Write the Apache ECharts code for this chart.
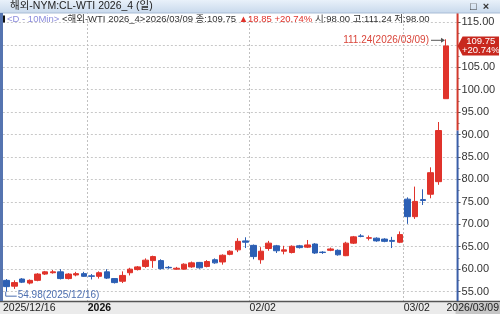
<!DOCTYPE html>
<html><head><meta charset="utf-8">
<script src="https://cdn.jsdelivr.net/npm/echarts@6/dist/echarts.min.js"></script>
<style>html,body{margin:0;padding:0;background:#fff}#c{width:500px;height:314px}</style>
</head><body><div id="c"></div><script>
// ---- data ----
const dates = ['2025/12/16','2025/12/17','2025/12/18','2025/12/19','2025/12/22','2025/12/23','2025/12/24','2025/12/26','2025/12/29','2025/12/30','2025/12/31',
 '2026/01/02','2026/01/05','2026/01/06','2026/01/07','2026/01/08','2026/01/09','2026/01/12','2026/01/13','2026/01/14','2026/01/15','2026/01/16','2026/01/19','2026/01/20','2026/01/21','2026/01/22','2026/01/23','2026/01/26','2026/01/27','2026/01/28','2026/01/29','2026/01/30',
 '2026/02/02','2026/02/03','2026/02/04','2026/02/05','2026/02/06','2026/02/09','2026/02/10','2026/02/11','2026/02/12','2026/02/13','2026/02/16','2026/02/17','2026/02/18','2026/02/19','2026/02/20','2026/02/23','2026/02/24','2026/02/25','2026/02/26','2026/02/27',
 '2026/03/02','2026/03/03','2026/03/04','2026/03/05','2026/03/06','2026/03/09'];
const opens  = [57.5,56.2,57.8,56.9,57.5,58.9,59.2,59.4,57.9,58.7,59.0, 58.5,58.4,59.4,57.9,57.3,59.2,59.9,60.6,61.9,61.9,60.4,60.0,60.0,60.5,61.5,60.6,62.1,61.6,63.3,64.3,66.3, 65.3,62.1,64.6,65.2,64.0,63.7,65.2,64.9,65.6,63.8,64.2,64.2,63.0,65.8,67.4,66.9,66.9,66.7,66.4,66.0, 75.6,71.7,75.5,76.7,79.5,98.00];
const closes = [56.1,57.0,57.1,57.5,58.9,59.4,59.4,57.9,58.9,59.0,58.4, 58.4,59.2,58.0,57.0,58.6,60.0,60.5,62.0,62.8,60.1,60.3,60.2,61.1,61.4,60.3,61.7,61.4,63.1,64.0,66.2,66.0, 62.8,64.0,65.8,64.1,64.3,65.1,64.8,65.4,63.6,63.7,64.5,63.2,65.8,67.2,67.3,67.0,66.3,66.2,66.2,67.7, 71.7,75.1,75.3,81.5,90.90,109.75];
const lows   = [54.98,55.6,56.9,56.6,57.3,58.7,59.0,57.7,57.7,58.4,58.3, 57.7,57.9,57.8,56.8,56.9,58.6,59.7,60.3,60.3,59.9,60.1,59.9,59.9,60.3,60.1,60.4,61.2,61.0,63.1,63.8,64.7, 62.2,61.2,64.1,63.6,63.3,63.5,64.6,64.7,63.4,63.4,64.0,63.0,62.9,65.6,67.1,66.4,66.1,66.0,64.7,65.8, 70.1,71.2,74.3,75.8,78.8,98.00];
const highs  = [57.8,57.5,58.0,57.7,59.1,59.6,59.8,60.0,59.1,59.4,59.4, 58.9,59.5,60.0,58.0,59.5,60.3,60.7,62.4,63.0,62.2,60.7,60.5,61.3,61.7,61.6,62.0,62.4,63.3,64.2,66.9,67.1, 65.5,64.9,66.3,65.4,65.2,65.3,65.4,66.5,65.8,64.0,64.8,64.4,66.1,67.4,67.8,67.5,67.1,66.9,67.2,68.4, 76.0,78.4,77.8,82.7,92.8,111.24];
const yMin = 50, yMax = 120, yStep = 5, yLabelMin = 55, yLabelMax = 115;
const titleText = '해외-NYM:CL-WTI 2026_4 (일)';
const infoTag = '<D - 10Min>';
const infoName = '<해외-WTI 2026_4>';

// ---- layout ----
const W = 500, H = 314;
const LEFT = 2.85, BAND = 7.707;
const n = dates.length;
const plotRight = LEFT + (n + 1) * BAND;
const RED = '#e0332b', BLUE = '#2c5fb4';
const FONT = "'Liberation Sans','Noto Sans CJK KR',sans-serif";

const xCats = dates.concat(['']);
const candles = dates.map((d, i) => [opens[i], closes[i], lows[i], highs[i]]);
const ymd = s => { const p = s.split('/').map(Number); return new Date(p[0], p[1] - 1, p[2]); };
const monthStart = new Set();
const weekStart = new Set();
dates.forEach((d, i) => {
  if (i === 0) return;
  const a = ymd(d), b = ymd(dates[i - 1]);
  if (a.getMonth() !== b.getMonth()) monthStart.add(i);
  if (a.getDay() < b.getDay()) weekStart.add(i);
});

const chart = echarts.init(document.getElementById('c'), null, {renderer: 'canvas'});
const option = {
  animation: false,
  textStyle: {fontFamily: FONT},
  grid: [
    {left: LEFT, right: W - plotRight, top: 0, bottom: 0},
    {left: LEFT, right: W - (LEFT + (n - 1) * BAND), top: 301, height: 13}
  ],
  xAxis: [
    {type: 'category', gridIndex: 0, data: xCats, boundaryGap: true,
     axisLine: {show: false}, axisTick: {show: false}, axisLabel: {show: false},
     splitLine: {show: true, interval: (i) => monthStart.has(i), lineStyle: {color: '#c0c0c0', type: [2, 2]}}},
    {type: 'category', gridIndex: 1, data: dates, boundaryGap: false, position: 'top', z: 10,
     axisLine: {show: false},
     axisTick: {show: true, inside: true, length: 3, interval: (i) => weekStart.has(i), lineStyle: {color: '#444'}},
     axisLabel: {inside: true, margin: 2, align: 'left', verticalAlign: 'top', fontSize: 10.5, color: '#222', fontFamily: FONT,
       interval: (i) => i === 0 || monthStart.has(i),
       formatter: (v, i) => {
         if (i === 0) return v;
         if (ymd(v).getMonth() === 0) return '{b|' + v.slice(0, 4) + '}';
         return v.slice(5);
       },
       rich: {b: {fontWeight: 'bold', fontSize: 10.5, color: '#111', fontFamily: FONT}}}}
  ],
  yAxis: [
    {type: 'value', gridIndex: 0, position: 'right', min: yMin, max: yMax, interval: yStep,
     axisLine: {show: false},
     axisTick: {show: true, length: 3, lineStyle: {color: '#555'}},
     minorTick: {show: true, splitNumber: 2, length: 2, lineStyle: {color: '#888'}},
     axisLabel: {margin: 4, fontSize: 11, color: '#333', fontFamily: FONT,
       formatter: v => (v < yLabelMin || v > yLabelMax) ? '' : v.toFixed(2)},
     splitLine: {show: true, lineStyle: {color: '#c8c8c8', type: [2, 2]}}},
    {type: 'value', gridIndex: 1, show: false}
  ],
  series: [{
    type: 'candlestick', xAxisIndex: 0, yAxisIndex: 0, data: candles, barWidth: 6,
    itemStyle: {color: RED, color0: BLUE, borderColor: RED, borderColor0: BLUE, borderWidth: 1}
  }]
};
chart.setOption(option);

// ---- overlays derived from scales ----
const px = (i, v) => chart.convertToPixel({xAxisIndex: 0, yAxisIndex: 0}, [i, v]);
const last = n - 1;
const prevClose = closes[last - 1];
const chg = closes[last] - prevClose;
const pct = chg / prevClose * 100;
const yPrev = px(0, prevClose)[1];
const axisX = plotRight;
const yc = px(last, closes[last])[1];
let hiIdx = 0, loIdx = 0;
highs.forEach((v, i) => { if (v > highs[hiIdx]) hiIdx = i; });
lows.forEach((v, i) => { if (v < lows[loIdx]) loIdx = i; });
const hp = px(hiIdx, highs[hiIdx]);
const lp = px(loIdx, lows[loIdx]);
const f2 = v => v.toFixed(2);
const tagCx = (axisX + 5 + W - 1) / 2;

const els = [
  // bottom band
  {type: 'rect', z: 5, shape: {x: 0, y: 301, width: W, height: 13}, style: {fill: '#ebebeb'}},
  {type: 'line', z: 6, shape: {x1: 0, y1: 301.5, x2: W, y2: 301.5}, style: {stroke: '#555', lineWidth: 1.5}},
  {type: 'rect', z: 6, shape: {x: axisX - 2, y: 302.5, width: W - axisX + 2, height: 11.5}, style: {fill: '#c6c6c6'}},
  {type: 'text', z: 7, x: W - 1, y: 308.5, style: {text: dates[last], fill: '#222', font: '10.5px ' + FONT, align: 'right', verticalAlign: 'middle'}},
  // title bar
  {type: 'rect', z: 100, shape: {x: 0, y: 0, width: W, height: 13},
   style: {fill: new echarts.graphic.LinearGradient(0, 0, 0, 1, [{offset: 0, color: '#e9f1fa'}, {offset: 1, color: '#c8d9ec'}])}},
  {type: 'line', z: 100, shape: {x1: 0, y1: 13, x2: W, y2: 13}, style: {stroke: '#a9bdd6', lineWidth: 1}},
  {type: 'text', z: 101, x: 10, y: 6.5, style: {text: titleText, fill: '#222', font: '10.5px ' + FONT, verticalAlign: 'middle'}},
  {type: 'text', z: 101, x: 470, y: 6.5, style: {text: '□  ×', fill: '#333', font: 'bold 11px ' + FONT, verticalAlign: 'middle'}},
  // left stripe
  {type: 'rect', z: 100, shape: {x: 0, y: 13, width: 3, height: 288}, style: {fill: '#5574b0'}},
  // info line
  {type: 'rect', z: 101, shape: {x: 3, y: 15.5, width: 2, height: 7}, style: {fill: '#111'}},
  {type: 'text', z: 101, x: 7, y: 19, style: {
    text: '{p|' + infoTag + '} {d|' + infoName + dates[last] + ' 종:' + f2(closes[last]) + '} {r|▲' + f2(chg) + ' +' + f2(pct) + '%} {d|시:' + f2(opens[last]) + ' 고:' + f2(highs[last]) + ' 저:' + f2(lows[last]) + '}',
    verticalAlign: 'middle', font: '9.5px ' + FONT,
    rich: {p: {fill: '#8c8cdc', font: '9.5px ' + FONT}, d: {fill: '#333', font: '9.5px ' + FONT}, r: {fill: '#e0332b', font: '9.5px ' + FONT}}}},
  // right axis line split at previous close
  {type: 'line', z: 50, shape: {x1: axisX, y1: 13, x2: axisX, y2: yPrev}, style: {stroke: '#d23a2e', lineWidth: 2}},
  {type: 'line', z: 50, shape: {x1: axisX, y1: yPrev, x2: axisX, y2: 301}, style: {stroke: '#3a5ea8', lineWidth: 2}},
  // current price tag
  {type: 'polygon', z: 100, shape: {points: [[axisX, yc], [axisX + 5, yc - 9.5], [W - 1, yc - 9.5], [W - 1, yc + 9.5], [axisX + 5, yc + 9.5]]}, style: {fill: '#c8281e'}},
  {type: 'text', z: 101, x: tagCx, y: yc - 4.5, style: {text: f2(closes[last]), fill: '#fff', font: '9.5px ' + FONT, align: 'center', verticalAlign: 'middle'}},
  {type: 'text', z: 101, x: tagCx, y: yc + 4.5, style: {text: '+' + f2(pct) + '%', fill: '#fff', font: '9.5px ' + FONT, align: 'center', verticalAlign: 'middle'}},
  // high marker
  {type: 'text', z: 60, x: hp[0] - 17, y: hp[1] + 1, style: {text: f2(highs[hiIdx]) + '(' + dates[hiIdx] + ')', fill: '#d9453a', font: '10px ' + FONT, align: 'right', verticalAlign: 'middle'}},
  {type: 'line', z: 60, shape: {x1: hp[0] - 15, y1: hp[1] + 1, x2: hp[0] - 3, y2: hp[1] + 1}, style: {stroke: '#555', lineWidth: 1}},
  {type: 'polygon', z: 60, shape: {points: [[hp[0] - 1, hp[1] + 1], [hp[0] - 5, hp[1] - 1.5], [hp[0] - 5, hp[1] + 3.5]]}, style: {fill: '#555'}},
  // low marker
  {type: 'polyline', z: 60, shape: {points: [[lp[0] - 1, lp[1]], [lp[0] - 1, lp[1] + 4.5], [lp[0] + 10, lp[1] + 4.5]]}, style: {stroke: '#4d6fb0', lineWidth: 1, fill: null}},
  {type: 'text', z: 60, x: lp[0] + 11, y: lp[1] + 4, style: {text: f2(lows[loIdx]) + '(' + dates[loIdx] + ')', fill: '#4d6fb0', font: '10px ' + FONT, verticalAlign: 'middle'}}
];
chart.setOption({graphic: {elements: els}});
</script></body></html>
